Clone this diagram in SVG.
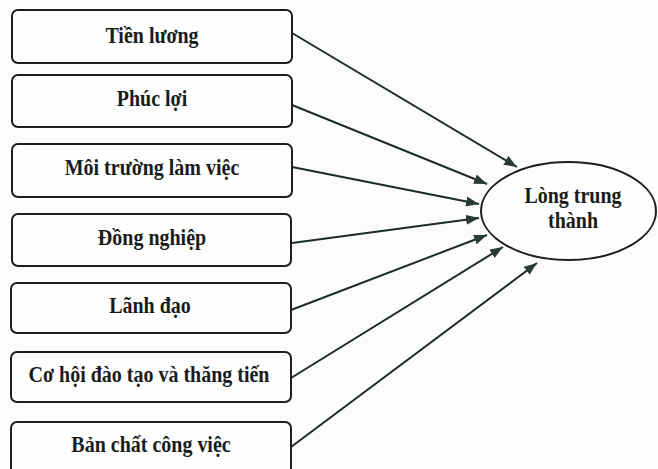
<svg xmlns="http://www.w3.org/2000/svg" width="658" height="469" viewBox="0 0 658 469">
  <style>
    .box { fill: #fdfefd; stroke: #1c1f1e; stroke-width: 2; }
    .lbl { font-family: "Liberation Serif", "Times New Roman", serif; font-weight: bold; font-size: 20px; fill: #1a1c1b; text-anchor: middle; }
    .conn { stroke: #1f2b28; stroke-width: 2; fill: none; marker-end: url(#arr); }
    .ell { fill: #fdfefd; stroke: #1c1f1e; stroke-width: 2; }
  </style>
  <defs>
    <marker id="arr" markerUnits="userSpaceOnUse" markerWidth="13" markerHeight="10" refX="13" refY="5" orient="auto">
      <path d="M0,0 L13,5 L0,10 z" fill="#2a3a36"/>
    </marker>
  </defs>
  <rect width="658" height="469" fill="#fbfcfb"/>

  <g id="connectors">
    <line class="conn" x1="292" y1="33" x2="517" y2="167"/>
    <line class="conn" x1="292" y1="105" x2="487" y2="184"/>
    <line class="conn" x1="292" y1="167" x2="479" y2="204"/>
    <line class="conn" x1="292" y1="243" x2="479" y2="218"/>
    <line class="conn" x1="291" y1="310" x2="487" y2="235"/>
    <line class="conn" x1="291" y1="378" x2="503" y2="247"/>
    <line class="conn" x1="291" y1="447" x2="537" y2="263"/>
  </g>

  <g id="n1">
    <rect class="box" x="12" y="10" width="280" height="53" rx="6"/>
    <text class="lbl" transform="translate(152,43) scale(1,1.18)">Tiền lương</text>
  </g>
  <g id="n2">
    <rect class="box" x="12" y="75" width="280" height="52" rx="6"/>
    <text class="lbl" transform="translate(152,106) scale(1,1.18)">Phúc lợi</text>
  </g>
  <g id="n3">
    <rect class="box" x="12" y="144" width="280" height="53" rx="6"/>
    <text class="lbl" transform="translate(152,175) scale(1,1.18)">Môi trường làm việc</text>
  </g>
  <g id="n4">
    <rect class="box" x="12" y="214" width="279" height="52" rx="6"/>
    <text class="lbl" transform="translate(152,245) scale(1,1.18)">Đồng nghiệp</text>
  </g>
  <g id="n5">
    <rect class="box" x="11" y="283" width="280" height="50" rx="6"/>
    <text class="lbl" transform="translate(150,313) scale(1,1.18)">Lãnh đạo</text>
  </g>
  <g id="n6">
    <rect class="box" x="11" y="352" width="280" height="50" rx="6"/>
    <text class="lbl" transform="translate(149,382) scale(1,1.18)">Cơ hội đào tạo và thăng tiến</text>
  </g>
  <g id="n7">
    <rect class="box" x="11" y="422" width="280" height="52" rx="6"/>
    <text class="lbl" transform="translate(151,452) scale(1,1.18)">Bản chất công việc</text>
  </g>
  <g id="target">
    <ellipse class="ell" cx="568.5" cy="211" rx="87.5" ry="49"/>
    <text class="lbl" transform="translate(573,203) scale(1,1.15)">Lòng trung</text>
    <text class="lbl" transform="translate(573,228) scale(1,1.15)">thành</text>
  </g>
</svg>
